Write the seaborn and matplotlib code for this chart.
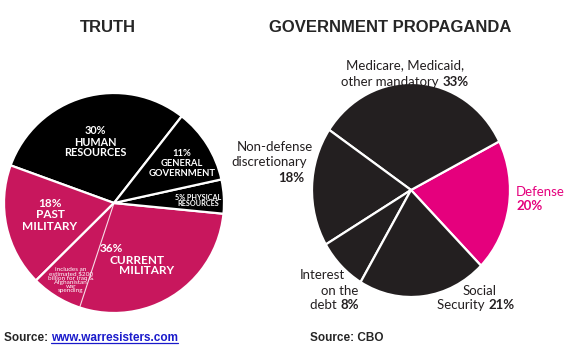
import numpy as np
import matplotlib
matplotlib.use("Agg")
import matplotlib.pyplot as plt
from matplotlib.lines import Line2D
import seaborn as sns

sns.set_style("white")

# ---- data ----
truth_labels = ["HUMAN RESOURCES", "PAST MILITARY", "CURRENT MILITARY",
                "PHYSICAL RESOURCES", "GENERAL GOVERNMENT"]
truth_values = [30, 18, 36, 5, 11]
truth_pink = [False, True, True, False, False]
iraq_share = 7.5  # part of current military for Iraq & Afghanistan

gov_labels = ["Defense", "Medicare, Medicaid, other mandatory",
              "Non-defense discretionary", "Interest on the debt", "Social Security"]
gov_values = [20, 33, 18, 8, 21]
gov_pink = [True, False, False, False, False]

W, H = 575, 353
fig = plt.figure(figsize=(W / 100, H / 100), dpi=100)
fig.patch.set_facecolor("white")

PINK_L = "#c8175d"
PINK_R = "#e5007d"
DARK_R = "#231f20"


def px_axes(x0, y0, x1, y1):
    return fig.add_axes([x0 / W, 1 - y1 / H, (x1 - x0) / W, (y1 - y0) / H])


# ---- left pie ----
axl = px_axes(4, 93, 224, 313)
cols = [PINK_L if p else "black" for p in truth_pink]
axl.pie(truth_values, colors=cols, startangle=52, counterclock=True,
        wedgeprops=dict(edgecolor="white", linewidth=1.6), radius=1)
# thin line marking the Iraq/Afghanistan share of current military
cum = np.cumsum([0] + truth_values)
ang = np.deg2rad(52 + (cum[2] + iraq_share) * 3.6)
axl.plot([0, np.cos(ang)], [0, np.sin(ang)], color="white", lw=0.8, alpha=0.85)
axl.set_xlim(-1, 1)
axl.set_ylim(-1, 1)
axl.set_aspect("auto")
axl.axis("off")

# ---- right pie ----
axr = px_axes(312, 83, 510, 297)
cols = [PINK_R if p else DARK_R for p in gov_pink]
axr.pie(gov_values, colors=cols, startangle=-45, counterclock=True,
        wedgeprops=dict(edgecolor="white", linewidth=1.6), radius=1)
axr.set_xlim(-1, 1)
axr.set_ylim(-1, 1)
axr.set_aspect("auto")
axr.axis("off")

renderer = fig.canvas.get_renderer()


def put(x, y, s, **kw):
    return fig.text(x / W, 1 - y / H, s, va="center", **kw)


def rich(x, y, parts, ha="center", **kw):
    # parts: list of (text, weight); placed side by side on one line
    texts = [put(0, y, s, ha="left", fontweight=wt, **kw) for s, wt in parts]
    widths = [t.get_window_extent(renderer).width for t in texts]
    total = sum(widths)
    start = {"left": x, "center": x - total / 2, "right": x - total}[ha]
    for t, w in zip(texts, widths):
        t.set_x(start / W)
        start += w
    return texts


# titles
put(108, 28, "TRUTH", ha="center", fontsize=12, fontweight="bold",
    family="Liberation Sans")
put(390, 28, "GOVERNMENT PROPAGANDA", ha="center", fontsize=12,
    fontweight="bold", family="Liberation Sans")

# left pie labels
lk = dict(color="white", fontweight="bold", family="Lato", ha="center")
for yy, s in zip([131, 142, 152], ["30%", "HUMAN", "RESOURCES"]):
    put(95, yy, s, fontsize=7.8, **lk)
for yy, s in zip([153, 163, 173], ["11%", "GENERAL", "GOVERNMENT"]):
    put(182, yy, s, fontsize=6.8, **lk)
put(198, 197, "5% PHYSICAL", fontsize=5.2, **lk)
put(198, 204, "RESOURCES", fontsize=5.2, **lk)
for yy, s in zip([203, 214, 226], ["18%", "PAST", "MILITARY"]):
    put(50, yy, s, fontsize=8.5, **lk)
put(111, 249, "36%", fontsize=8.5, **lk)
put(137, 260, "CURRENT", fontsize=8.5, **lk)
put(147, 271, "MILITARY", fontsize=8.5, **lk)
put(71, 280, "includes an\nestimated $200\nbillion for Iraq &\nAfghanistan\nwar\nspending",
    ha="center", fontsize=4.6, color="white", family="Lato", linespacing=0.8)

# right pie labels
rk = dict(color=DARK_R, family="Lato", fontsize=9.5)
rich(405, 65, [("Medicare, Medicaid,", "normal")], **rk)
rich(405, 82, [("other mandatory ", "normal"), ("33%", "bold")], **rk)
rich(313, 147, [("Non-defense", "normal")], ha="right", **rk)
rich(307, 162, [("discretionary", "normal")], ha="right", **rk)
rich(304, 178, [("18%", "bold")], ha="right", **rk)
put(516, 192, "Defense", ha="left", color=PINK_R, family="Lato", fontsize=9.5)
put(516, 206, "20%", ha="left", color=PINK_R, family="Lato", fontsize=9.5,
    fontweight="bold")
rich(345, 275, [("Interest", "normal")], ha="right", **rk)
rich(358, 291, [("on the", "normal")], ha="right", **rk)
rich(359, 305, [("debt ", "normal"), ("8%", "bold")], ha="right", **rk)
rich(480, 291, [("Social", "normal")], **rk)
rich(476, 305, [("Security ", "normal"), ("21%", "bold")], **rk)

# sources
sk = dict(fontsize=8.5, family="Liberation Sans")
t1, t2 = rich(4, 338, [("Source: ", "bold"), ("www.warresisters.com", "bold")],
              ha="left", **sk)
t2.set_color("#1a1acb")
bb = t2.get_window_extent(renderer)
uy = (bb.y0 + 1) / H
fig.add_artist(Line2D([bb.x0 / W, bb.x1 / W], [uy, uy], color="#1a1acb", lw=0.9))
rich(310, 338, [("Source: CBO", "bold")], ha="left", **sk)

fig.savefig("out.png", dpi=100)
